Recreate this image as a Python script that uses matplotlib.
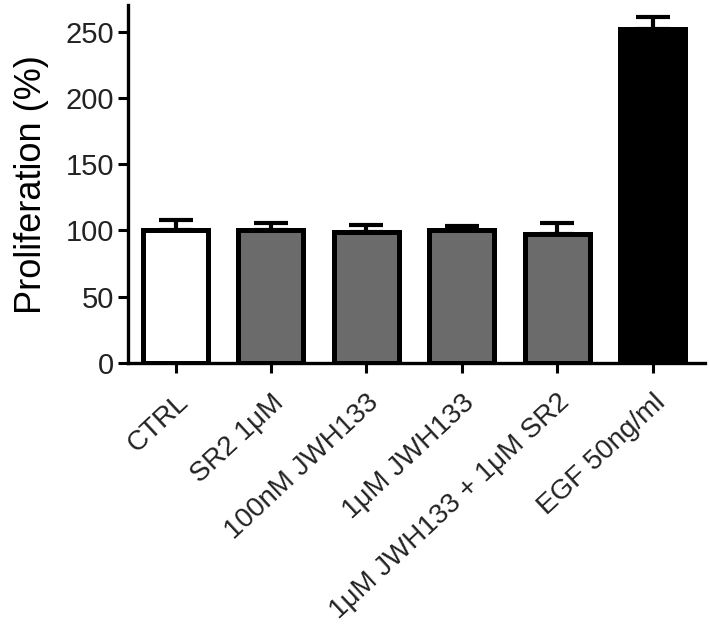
import matplotlib
matplotlib.use("Agg")
import matplotlib.pyplot as plt
import numpy as np

plt.rcParams['font.family'] = ['Liberation Sans', 'DejaVu Sans']

labels = ["CTRL", "SR2 1\u03bcM", "100nM JWH133", "1\u03bcM JWH133",
          "1\u03bcM JWH133 + 1\u03bcM SR2", "EGF 50ng/ml"]
means = [100, 100.5, 99, 100, 97.5, 252]
errs = [8, 5, 5, 3.5, 8, 9]
colors = ["white", "#6b6b6b", "#6b6b6b", "#6b6b6b", "#6b6b6b", "black"]

fig = plt.figure(figsize=(7.1, 6.38), dpi=100)
ax = fig.add_axes([0.18, 0.431, 0.813, 0.561])

x = np.arange(len(labels))
ax.bar(x, means, width=0.68, color=colors, edgecolor="black", linewidth=3.6, zorder=2)
ax.errorbar(x, means, yerr=[np.zeros(len(errs)), errs], fmt="none", ecolor="black",
            elinewidth=3, capsize=12, capthick=3, zorder=1)

ax.set_xlim(-0.5, 5.55)
ax.set_ylim(0, 270)
ax.set_yticks([0, 50, 100, 150, 200, 250])
ax.set_xticks(x)
ax.set_xticklabels(labels, rotation=43, ha="right", rotation_mode="anchor", fontsize=20)
ax.tick_params(axis="y", labelsize=21, width=2.2, length=7, pad=3, colors="black", labelcolor="#222222")
ax.tick_params(axis="x", width=2.2, length=7, pad=12, labelcolor="#222222")
ax.set_ylabel("Proliferation (%)", fontsize=26, labelpad=12)

ax.spines["top"].set_visible(False)
ax.spines["right"].set_visible(False)
ax.spines["left"].set_linewidth(2.4)
ax.spines["bottom"].set_linewidth(2.4)

fig.savefig("out.png", dpi=100)
